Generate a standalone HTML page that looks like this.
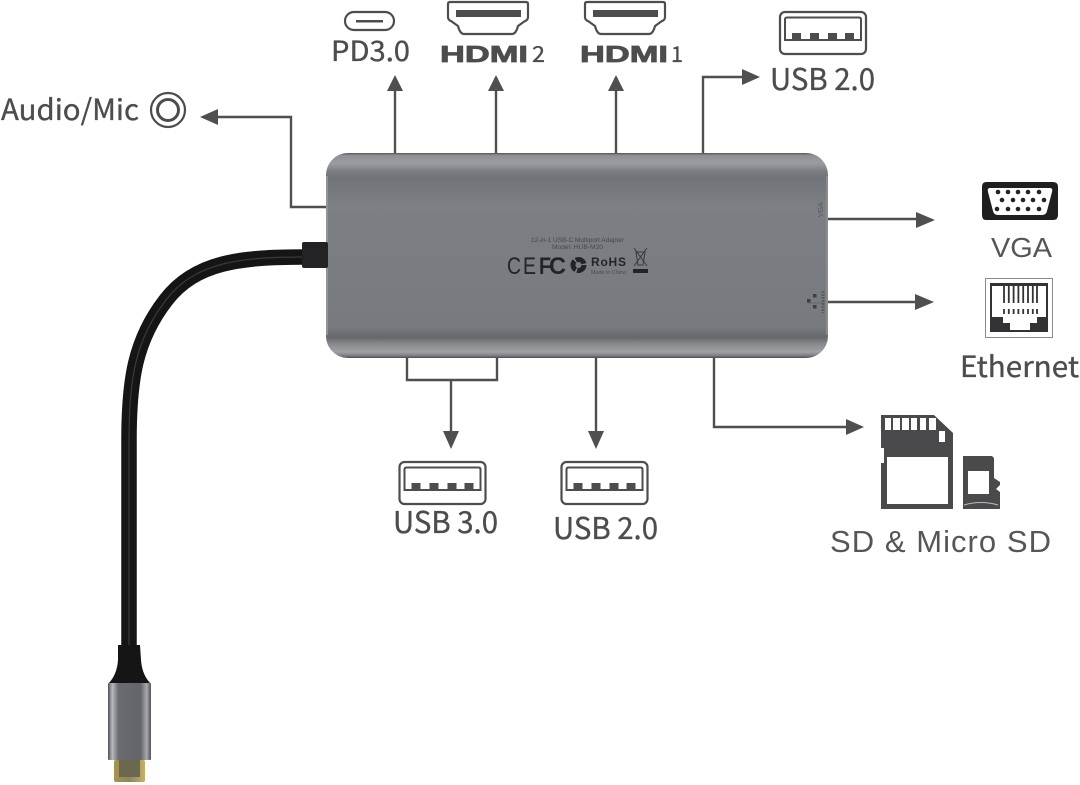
<!DOCTYPE html>
<html><head><meta charset="utf-8"><style>
html,body{margin:0;padding:0;background:#fff}
svg{display:block}
.n{font-family:"Noto Sans CJK SC","Liberation Sans",sans-serif;fill:#4d4d4f;stroke:#4d4d4f;stroke-width:.35}
.l{font-family:"Liberation Sans",sans-serif;fill:#555658}
</style></head><body>
<svg width="1080" height="785" viewBox="0 0 1080 785" xmlns="http://www.w3.org/2000/svg">
<defs>
<linearGradient id="b" x1="0" y1="0" x2="0" y2="1">
<stop offset="0" stop-color="#55575a"/><stop offset=".012" stop-color="#8f9195"/><stop offset=".05" stop-color="#9a9ca0"/><stop offset=".09" stop-color="#7a7d81"/><stop offset=".12" stop-color="#707377"/><stop offset=".25" stop-color="#7c7f84"/><stop offset=".85" stop-color="#777a7e"/><stop offset=".9" stop-color="#65676b"/><stop offset=".93" stop-color="#86888c"/><stop offset=".97" stop-color="#a0a2a6"/><stop offset=".988" stop-color="#7e8084"/><stop offset="1" stop-color="#4a4c50"/>
</linearGradient>
<linearGradient id="m" x1="0" y1="0" x2="1" y2="0">
<stop offset="0" stop-color="#4e5054"/><stop offset=".1" stop-color="#b8bac0"/><stop offset=".24" stop-color="#6a6c72"/><stop offset=".76" stop-color="#63656a"/><stop offset=".9" stop-color="#a8aab0"/><stop offset="1" stop-color="#505256"/>
</linearGradient>
<linearGradient id="g" x1="0" y1="0" x2="1" y2="0">
<stop offset="0" stop-color="#a89550"/><stop offset=".5" stop-color="#8d8658"/><stop offset="1" stop-color="#c8b060"/>
</linearGradient>
<g id="usb">
<rect x="1" y="1" width="86" height="42" rx="5" fill="#fff" stroke="#4d4d4f" stroke-width="2.200"/>
<path d="M8 6.500H80Q82 6.500 82 8.500V29H6V8.500Q6 6.500 8 6.500Z" fill="none" stroke="#4d4d4f" stroke-width="2"/>
<path d="M13 22h9v7H13ZM31 22h9v7H31ZM49 22h9v7H49ZM66 22h9v7H66Z" fill="#4d4d4f"/>
</g>
<g id="hd">
<path d="M1 3Q1 1 3 1H79Q81 1 81 3V16Q81 19 78 20L71 25Q69 33 65 33H17Q13 33 11 25L4 20Q1 19 1 16Z" fill="#fff" stroke="#4d4d4f" stroke-width="2.200"/>
<rect x="9" y="9" width="65" height="7" fill="#4d4d4f"/>
</g>
</defs>
<rect width="1080" height="785" fill="#fff"/>

<!-- connectors -->
<g fill="none" stroke="#4f4f51" stroke-width="2.400">
<path d="M395 153V90M496 153V90M616 153V90M703 153V77H744"/>
<path d="M326 207H291V117H215"/>
<path d="M828 219H918M828 302H918"/>
<path d="M407 357V380H497V357M451 380V432"/>
<path d="M596 357V433M714 357V427H848"/>
</g>
<g fill="#4f4f51">
<path d="M395 75L387 91H403ZM496 75L488 91H504ZM616 75L608 91H624Z"/>
<path d="M760 77L742 69V85Z"/>
<path d="M200 117L218 109V125Z"/>
<path d="M935 220L916 212V228ZM934 302L915 294V310Z"/>
<path d="M451 449L443 431H459ZM596 449L588 431H604Z"/>
<path d="M864 427L846 419V435Z"/>
</g>

<!-- hub body -->
<rect x="326" y="153" width="502" height="205" rx="22" fill="url(#b)"/>
<path d="M327 176V335" stroke="#9a9ca0" stroke-width="1.500"/>
<path d="M827 176V335" stroke="#909296" stroke-width="1.500"/>

<!-- cable -->
<path d="M305 257C240 257 195 262 166 300C135 340 129 380 129 440V650" fill="none" stroke="#151516" stroke-width="15.500"/>
<path d="M305 257C240 257 195 262 166 300C135 340 129 380 129 440V650" fill="none" stroke="#3a3a3c" stroke-width="1.200"/>
<rect x="302" y="242" width="26" height="26" rx="2" fill="#232325"/>

<!-- plug -->
<path d="M118 645H140L141 660Q142 675 151 684V690H108V684Q117 675 118 660Z" fill="#151516"/>
<rect x="108" y="683" width="43" height="77" rx="1" fill="url(#m)"/>
<rect x="114" y="760" width="31" height="22" rx="2" fill="url(#g)"/>
<rect x="119" y="760" width="21" height="17" fill="#6c6850"/>

<!-- hub printing -->
<text x="531" y="242" font-size="6" class="l" style="fill:#45474b" textLength="93" lengthAdjust="spacingAndGlyphs">12-in-1 USB-C Multiport Adapter</text>
<text x="552" y="249" font-size="6" class="l" style="fill:#45474b" textLength="51" lengthAdjust="spacingAndGlyphs">Model: HUB-M20</text>
<text x="507" y="274" font-size="24" class="l" style="fill:#232427" textLength="14" lengthAdjust="spacingAndGlyphs">C</text>
<text x="523" y="274" font-size="24" class="l" style="fill:#232427" textLength="13" lengthAdjust="spacingAndGlyphs">E</text>
<text x="539" y="274" font-size="24" font-weight="bold" class="l" style="fill:#232427" textLength="12" lengthAdjust="spacingAndGlyphs">F</text>
<text x="549" y="274" font-size="24" font-weight="bold" class="l" style="fill:#232427" textLength="17" lengthAdjust="spacingAndGlyphs">C</text>
<circle cx="578.500" cy="265" r="5.500" fill="none" stroke="#232427" stroke-width="5" stroke-dasharray="10 1.500"/>
<text x="591" y="266" font-size="12" font-weight="bold" class="l" style="fill:#232427" textLength="35">RoHS</text>
<text x="591" y="274" font-size="5.500" class="l" style="fill:#4a4c50" textLength="35" lengthAdjust="spacingAndGlyphs">Made in China</text>
<path d="M634 248L647 266M647 248L634 266" stroke="#3a3c3f" fill="none"/>
<path d="M636 252H645L643 265H638Z" fill="none" stroke="#3a3c3f"/>
<rect x="633" y="269" width="15" height="4" fill="#232427"/>
<text x="0" y="0" font-size="7" class="l" transform="translate(823 217) rotate(-90)" style="fill:#55575a">VGA</text>
<g fill="#3d3f42"><rect x="807" y="299" width="3.500" height="3.500"/><rect x="813" y="294" width="3.500" height="3.500"/><rect x="813" y="305" width="3.500" height="3.500"/></g>
<path d="M808 303H824" stroke="#5c5e61" stroke-width=".6"/>
<path d="M823 291V313" stroke="#5c5e61" stroke-width="3" stroke-dasharray="2 1"/>

<!-- PD3.0 -->
<rect x="345" y="12" width="49" height="18" rx="9" fill="#fff" stroke="#4d4d4f" stroke-width="2.200"/>
<rect x="356" y="20" width="27" height="2.500" fill="#4d4d4f"/>
<text x="331" y="61" font-size="28" class="n" textLength="79" lengthAdjust="spacingAndGlyphs">PD3.0</text>

<!-- HDMI -->
<use href="#hd" x="447" y="1"/>
<use href="#hd" x="584" y="1"/>
<text x="440" y="62" font-size="23" font-weight="bold" class="l" style="fill:#4d4d4f;stroke:#4d4d4f;stroke-width:.8" textLength="88" lengthAdjust="spacingAndGlyphs">HDMI</text>
<text x="532" y="62" font-size="22" class="n" textLength="13" lengthAdjust="spacingAndGlyphs">2</text>
<text x="580" y="62" font-size="23" font-weight="bold" class="l" style="fill:#4d4d4f;stroke:#4d4d4f;stroke-width:.8" textLength="88" lengthAdjust="spacingAndGlyphs">HDMI</text>
<text x="671" y="62" font-size="22" class="n" textLength="12" lengthAdjust="spacingAndGlyphs">1</text>

<!-- USB top -->
<use href="#usb" x="779" y="11"/>
<text x="770" y="90" font-size="30" class="n" textLength="105" lengthAdjust="spacingAndGlyphs">USB 2.0</text>

<!-- Audio -->
<text x="1" y="120" font-size="29" class="n" textLength="138" lengthAdjust="spacingAndGlyphs">Audio/Mic</text>
<circle cx="168" cy="110" r="17" fill="none" stroke="#4d4d4f" stroke-width="2.200"/>
<circle cx="168" cy="110" r="10.500" fill="none" stroke="#4d4d4f" stroke-width="3"/>

<!-- VGA -->
<path d="M986 182H1053Q1058 182 1058 187V215Q1058 220 1053 220H986Q982 220 982 215V187Q982 182 986 182Z" fill="#1f1f21"/>
<path d="M990 188H1050Q1053 188 1052 192L1047 211Q1046 215 1042 215H998Q994 215 993 211L988 192Q987 188 990 188Z" fill="#fff"/>
<g fill="#232325">
<circle cx="998" cy="192" r="2.300"/><circle cx="1008" cy="192" r="2.300"/><circle cx="1018" cy="192" r="2.300"/><circle cx="1028" cy="192" r="2.300"/><circle cx="1039" cy="192" r="2.300"/>
<circle cx="1002" cy="200" r="2.300"/><circle cx="1013" cy="200" r="2.300"/><circle cx="1023" cy="200" r="2.300"/><circle cx="1033" cy="200" r="2.300"/><circle cx="1044" cy="200" r="2.300"/>
<circle cx="997" cy="209" r="2.300"/><circle cx="1008" cy="209" r="2.300"/><circle cx="1018" cy="209" r="2.300"/><circle cx="1028" cy="209" r="2.300"/><circle cx="1039" cy="209" r="2.300"/>
</g>
<text x="991" y="257" font-size="28" class="l" textLength="61" lengthAdjust="spacingAndGlyphs">VGA</text>

<!-- Ethernet -->
<rect x="985.500" y="278.500" width="67" height="59" fill="#fff" stroke="#8b8b8d"/>
<path d="M990 283H1048V332H990Z" fill="#333335"/>
<path d="M992 286H1046V317H1037V323H1030V330H1010V323H1003V317H992Z" fill="#fff"/>
<g stroke="#333335" stroke-width="1.800" fill="none">
<path d="M1004 286V303M1008.800 286V303M1013.600 286V303M1018.400 286V303M1023.200 286V303M1028 286V303M1032.800 286V303M1037 286V303"/>
<path d="M1004 309V314M1008.800 309V314M1013.600 309V314M1018.400 309V314M1023.200 309V314M1028 309V314M1032.800 309V314M1037 309V314"/>
</g>
<text x="960" y="377" font-size="29" class="n" textLength="119" lengthAdjust="spacingAndGlyphs">Ethernet</text>

<!-- SD -->
<path d="M881 415H934L953 433V509H881V463H884V448H881Z" fill="#4a4a4c"/>
<rect x="887" y="457" width="61" height="47" fill="#fff"/>
<path d="M885 418h6v12h-6ZM893 418h7v12h-7ZM902 418h7v12h-7ZM911 418h6v12h-6ZM920 418h6v12h-6ZM929 418h7v12h-7ZM939 431h6v11h-6Z" fill="#fff"/>
<path d="M963 456H992L994 458V478L1000 482V485L996 489L1000 492V509H963Z" fill="#4a4a4c"/>
<rect x="968" y="471" width="21" height="23" fill="#fff"/>
<path d="M964 505Q981 500 998 505" stroke="#bbb" fill="none"/>
<text x="830" y="552" font-size="31" class="l" textLength="221" lengthAdjust="spacing">SD &amp; Micro SD</text>

<!-- USB bottom -->
<use href="#usb" x="398.500" y="461"/>
<text x="393" y="533" font-size="30" class="n" textLength="105" lengthAdjust="spacingAndGlyphs">USB 3.0</text>
<use href="#usb" x="560.500" y="461"/>
<text x="553" y="539" font-size="30" class="n" textLength="105" lengthAdjust="spacingAndGlyphs">USB 2.0</text>
</svg>
</body></html>
